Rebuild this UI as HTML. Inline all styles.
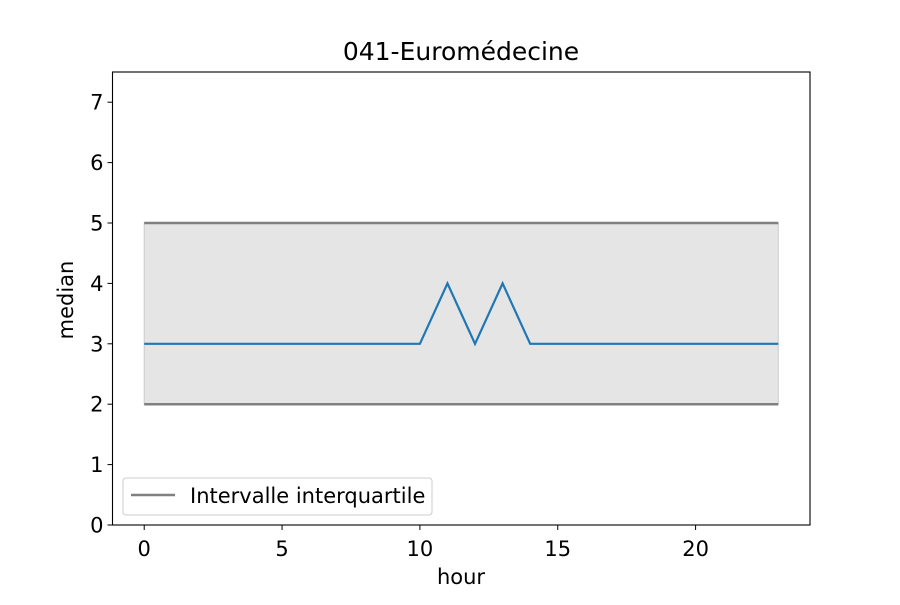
<!DOCTYPE html>
<html><head><meta charset="utf-8"><style>
body{margin:0;background:#fff}
text{font-family:"DejaVu Sans","Liberation Sans",sans-serif;fill:#000}
</style></head><body>
<svg id="chart" width="900" height="600" xmlns="http://www.w3.org/2000/svg">
<rect width="900" height="600" fill="#fff"/>
<text x="461" y="60" text-anchor="middle" style="font-size:25px">041-Euromédecine</text>
<g id="plot"></g>
</svg>
<script>
const hours=[0,1,2,3,4,5,6,7,8,9,10,11,12,13,14,15,16,17,18,19,20,21,22,23];
const median=[3,3,3,3,3,3,3,3,3,3,3,4,3,4,3,3,3,3,3,3,3,3,3,3];
const q1=[2,2,2,2,2,2,2,2,2,2,2,2,2,2,2,2,2,2,2,2,2,2,2,2];
const q3=[5,5,5,5,5,5,5,5,5,5,5,5,5,5,5,5,5,5,5,5,5,5,5,5];
const xTicks=[0,5,10,15,20];
const yTicks=[0,1,2,3,4,5,6,7];
const L=112.5,R=810,T=72,B=525,xMin=-1.15,xMax=24.15,yMin=0,yMax=7.5;
const X=v=>L+(v-xMin)/(xMax-xMin)*(R-L);
const Y=v=>B-(v-yMin)/(yMax-yMin)*(B-T);
const NS='http://www.w3.org/2000/svg';
const g=document.getElementById('plot');
function mk(t,a){const e=document.createElementNS(NS,t);for(const k in a)e.setAttribute(k,a[k]);g.appendChild(e);return e;}
let d='M'+hours.map((h,i)=>X(h)+','+Y(q3[i])).join('L');
for(let i=hours.length-1;i>=0;i--)d+='L'+X(hours[i])+','+Y(q1[i]);
let e=mk('path',{d:d+'Z',fill:'#e5e5e5',stroke:'#cccccc','stroke-width':1});


e=mk('polyline',{points:hours.map((h,i)=>X(h)+','+Y(q1[i])).join(' '),fill:'none',stroke:'#808080','stroke-width':2.5});


e=mk('polyline',{points:hours.map((h,i)=>X(h)+','+Y(q3[i])).join(' '),fill:'none',stroke:'#808080','stroke-width':2.5});


e=mk('polyline',{points:hours.map((h,i)=>X(h)+','+Y(median[i])).join(' '),fill:'none',stroke:'#1f77b4','stroke-width':2.2});


e=mk('rect',{x:L,y:T,width:R-L,height:B-T,fill:'none',stroke:'#000','stroke-width':1.1});


xTicks.forEach(v=>{mk('line',{x1:X(v),x2:X(v),y1:B,y2:B+5,stroke:'#000'});
const t=mk('text',{x:X(v),y:B+31,'text-anchor':'middle',style:'font-size:21px'});t.textContent=v;

});
yTicks.forEach(v=>{mk('line',{x1:L-5,x2:L,y1:Y(v),y2:Y(v),stroke:'#000'});
const t=mk('text',{x:L-9,y:Y(v)+7.5,'text-anchor':'end',style:'font-size:21px'});t.textContent=v;

});
e=mk('text',{x:461,y:584,'text-anchor':'middle',style:'font-size:21px'});e.textContent='hour';


e=mk('text',{x:73,y:300,'text-anchor':'middle',style:'font-size:21px',transform:'rotate(-90 73 300)'});e.textContent='median';


e=mk('rect',{x:123,y:478,width:309,height:37,rx:3,fill:'#fff','fill-opacity':0.8,stroke:'#cccccc'});


mk('line',{x1:131,x2:175,y1:495,y2:495,stroke:'#808080','stroke-width':2.5});
e=mk('text',{x:190,y:503,style:'font-size:21px'});e.textContent='Intervalle interquartile';


</script>
</body></html>
